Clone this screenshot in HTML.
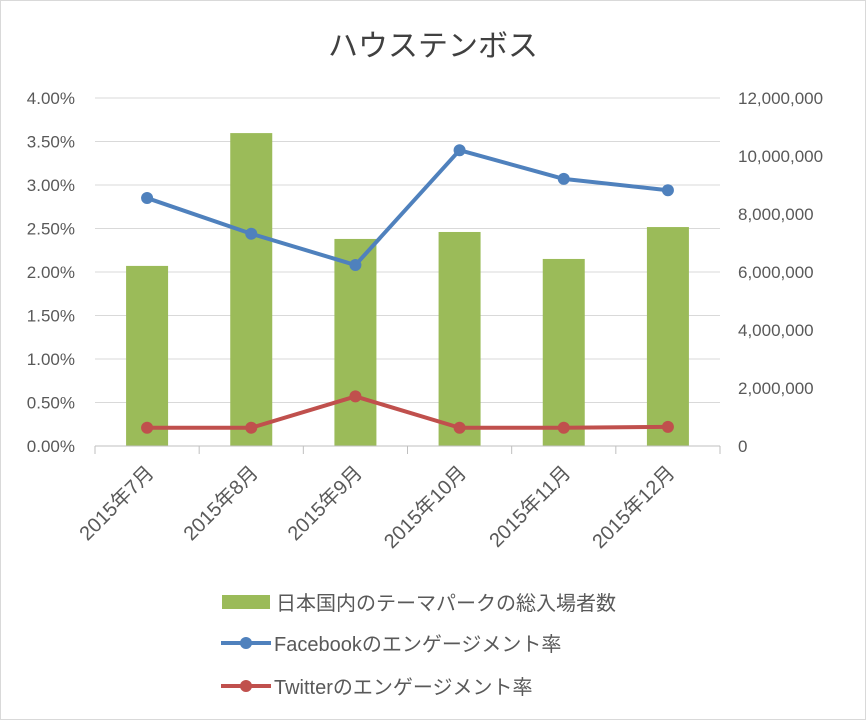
<!DOCTYPE html>
<html><head><meta charset="utf-8">
<style>
body{margin:0;background:#fff;}
svg{display:block;font-family:"Liberation Sans","Noto Sans CJK JP",sans-serif;}
</style></head>
<body>
<svg id="chart" width="866" height="720" viewBox="0 0 866 720">
<rect x="0.5" y="0.5" width="865" height="719" fill="#fff" stroke="#d9d9d9"/>
<text x="433" y="56" font-size="30" text-anchor="middle" fill="#404040">ハウステンボス</text>
<g id="grid"></g><g id="bars"></g><g id="axes"></g><g id="lines"></g>
<g>
<rect x="222" y="595" width="48" height="14" fill="#9bbb59"/>
<text x="276" y="610" font-size="20" fill="#595959">日本国内のテーマパークの総入場者数</text>
<line x1="221" y1="643" x2="271" y2="643" stroke="#4f81bd" stroke-width="4"/>
<circle cx="246" cy="643" r="6" fill="#4f81bd"/>
<text x="274" y="651" font-size="20" fill="#595959">Facebookのエンゲージメント率</text>
<line x1="221" y1="686" x2="271" y2="686" stroke="#c0504d" stroke-width="4"/>
<circle cx="246" cy="686" r="6" fill="#c0504d"/>
<text x="274" y="694" font-size="20" fill="#595959">Twitterのエンゲージメント率</text>
</g>
</svg>
<script>
const categories=["2015年7月","2015年8月","2015年9月","2015年10月","2015年11月","2015年12月"];
const visitors=[6210000,10790000,7140000,7380000,6450000,7550000];
const facebookRate=[2.85,2.44,2.08,3.40,3.07,2.94];
const twitterRate=[0.21,0.21,0.57,0.21,0.21,0.22];
const leftTicks=["0.00%","0.50%","1.00%","1.50%","2.00%","2.50%","3.00%","3.50%","4.00%"];
const rightTicks=["0","2,000,000","4,000,000","6,000,000","8,000,000","10,000,000","12,000,000"];
const NS="http://www.w3.org/2000/svg";
const X0=95,X1=720,Y0=446,Y1=98,LMAX=4,RMAX=12000000;
const bw=(X1-X0)/categories.length;
const xC=i=>X0+bw*(i+0.5);
const yL=v=>Y0-(v/LMAX)*(Y0-Y1);
const yR=v=>Y0-(v/RMAX)*(Y0-Y1);
function mk(tag,attrs,parent){const e=document.createElementNS(NS,tag);for(const k in attrs)e.setAttribute(k,attrs[k]);document.getElementById(parent).appendChild(e);return e;}
leftTicks.forEach((t,i)=>{
  const v=i*LMAX/(leftTicks.length-1),y=yL(v);
  if(i>0){const g=mk("line",{x1:X0,x2:X1,y1:y,y2:y,stroke:"#d9d9d9","stroke-width":1},"grid");
  
  }
  const tx=mk("text",{x:75,y:y+6,"font-size":17,fill:"#595959","text-anchor":"end"},"axes");tx.textContent=t;
  
  
});
rightTicks.forEach((t,i)=>{
  const v=i*RMAX/(rightTicks.length-1),y=yR(v);
  const tx=mk("text",{x:738,y:y+6,"font-size":17,fill:"#595959"},"axes");tx.textContent=t;
  
  
});
const ax=mk("line",{x1:X0,x2:X1,y1:Y0,y2:Y0,stroke:"#bfbfbf","stroke-width":1},"axes");


for(let i=0;i<=categories.length;i++){const x=X0+bw*i;const t=mk("line",{x1:x,x2:x,y1:Y0,y2:Y0+8,stroke:"#bfbfbf"},"axes");

}
categories.forEach((c,i)=>{
  const x=xC(i)+8,y=Y0+28;
  const t=mk("text",{x:x,y:y,"font-size":20,fill:"#595959","text-anchor":"end",transform:`rotate(-45 ${x} ${y})`},"axes");t.textContent=c;
  
  
  const b=mk("rect",{x:xC(i)-21,y:yR(visitors[i]),width:42,height:Y0-yR(visitors[i]),fill:"#9bbb59"},"bars");
  
  
});
function series(vals,color,name){
  const pts=vals.map((v,i)=>xC(i)+","+yL(v)).join(" ");
  const p=mk("polyline",{points:pts,fill:"none",stroke:color,"stroke-width":4,"stroke-linejoin":"round"},"lines");
  
  
  vals.forEach((v,i)=>{const c=mk("circle",{cx:xC(i),cy:yL(v),r:6,fill:color},"lines");
  
  });
}
series(facebookRate,"#4f81bd","facebook");
series(twitterRate,"#c0504d","twitter");
</script>
</body></html>
